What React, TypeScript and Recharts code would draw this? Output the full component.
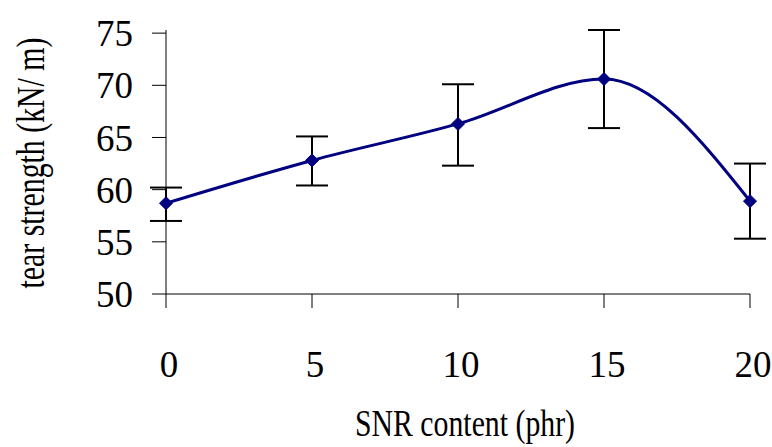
import React from 'react';
import { LineChart, Line, XAxis, YAxis, ErrorBar, Label } from 'recharts';

// SNR loading (phr) against tear strength, with spread of each measurement
const snrContent = [0, 5, 10, 15, 20];
const tearStrength = [58.7, 62.8, 66.3, 70.6, 58.9];
const errorBelow = [1.7, 2.4, 4.0, 4.7, 3.6];
const errorAbove = [1.5, 2.3, 3.8, 4.7, 3.6];

const xTicks = [0, 5, 10, 15, 20];
const yTicks = [50, 55, 60, 65, 70, 75];

const data = snrContent.map((x, i) => ({
  x,
  y: tearStrength[i],
  err: [errorBelow[i], errorAbove[i]],
}));

const FONT = '"Liberation Serif", "Times New Roman", serif';
const NAVY = '#000080';

const Diamond = (props: any) => {
  const { cx, cy } = props;
  if (cx == null || cy == null) return null;
  const r = 6.5;
  return (
    <polygon
      points={`${cx},${cy - r} ${cx + r},${cy} ${cx},${cy + r} ${cx - r},${cy}`}
      fill={NAVY}
      stroke={NAVY}
    />
  );
};

// condensed axis titles
const XTitle = (props: any) => {
  const { x, y, width } = props.viewBox;
  return (
    <text
      x={x + width / 2 + 7}
      y={y + 142}
      textAnchor="middle"
      fontFamily={FONT}
      fontSize={37}
      fill="#000"
      textLength={220}
      lengthAdjust="spacingAndGlyphs"
    >
      SNR content (phr)
    </text>
  );
};

const YTitle = (props: any) => {
  const { y, height } = props.viewBox;
  const cx = 44;
  const cy = y + height / 2 + 1;
  return (
    <text
      x={cx}
      y={cy}
      transform={`rotate(-90, ${cx}, ${cy})`}
      textAnchor="middle"
      fontFamily={FONT}
      fontSize={39}
      fill="#000"
      textLength={251}
      lengthAdjust="spacingAndGlyphs"
    >
      tear strength (kN/ m)
    </text>
  );
};

const App = () => {
  return (
    <div style={{ position: 'absolute', left: 0, top: 0, background: '#fff' }}>
      <LineChart
        width={772}
        height={447}
        data={data}
        margin={{ top: 30, right: 22, bottom: 0, left: 0 }}
      >
        <XAxis
          dataKey="x"
          type="number"
          domain={[0, 20]}
          ticks={xTicks}
          height={153}
          tickSize={14}
          tickMargin={43}
          axisLine={{ stroke: '#000' }}
          tickLine={{ stroke: '#000' }}
          tick={{ fill: '#000', fontSize: 37, fontFamily: FONT, dx: 3 }}
        >
          <Label content={<XTitle />} />
        </XAxis>
        <YAxis
          type="number"
          domain={[50, 75]}
          ticks={yTicks}
          width={166}
          tickSize={14}
          tickMargin={19}
          axisLine={{ stroke: '#000' }}
          tickLine={{ stroke: '#000' }}
          tick={{ fill: '#000', fontSize: 37, fontFamily: FONT }}
        >
          <Label content={<YTitle />} />
        </YAxis>
        <Line
          dataKey="y"
          type="monotone"
          stroke={NAVY}
          strokeWidth={3}
          dot={<Diamond />}
          activeDot={false}
          isAnimationActive={false}
        >
          <ErrorBar
            dataKey="err"
            direction="y"
            width={16}
            stroke="#000"
            strokeWidth={2}
            isAnimationActive={false}
          />
        </Line>
      </LineChart>
    </div>
  );
};

export default App;
